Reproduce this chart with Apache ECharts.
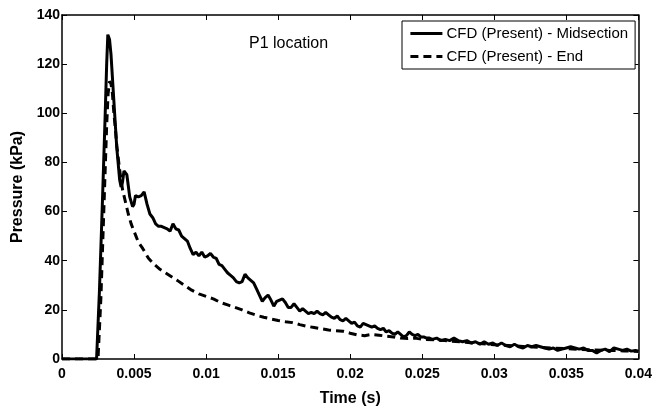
<!DOCTYPE html>
<html>
<head>
<meta charset="utf-8">
<script src="https://cdn.jsdelivr.net/npm/echarts@6/dist/echarts.min.js"></script>
<style>html,body{margin:0;padding:0;background:#fff;}#c{width:655px;height:412px;}</style>
</head>
<body>
<div id="c"></div>
<script>
var seriesNames = ['CFD (Present) - Midsection', 'CFD (Present) - End'];
var xTicks = [0, 0.005, 0.01, 0.015, 0.02, 0.025, 0.03, 0.035, 0.04];
var yTicks = [0, 20, 40, 60, 80, 100, 120, 140];

var midTime = [0,0.0024,0.0026,0.0028,0.0030,0.0031,0.00318,0.0033,0.0034,0.0036,0.0038,0.0040,0.0041,0.0042,0.0043,0.0044,0.0045,0.0047,0.0049,0.0050,0.0051,0.0053,0.0055,0.0057,0.0059,0.0061,0.0063,0.0065,0.0067,0.0069,0.0071,0.0073,0.0075,0.0077,0.0079,0.0081,0.0083,0.0085,0.0087,0.0089,0.0091,0.0093,0.0095,0.0097,0.0099,0.0101,0.0103,0.0105,0.0107,0.0109,0.0111,0.0113,0.0115,0.0117,0.0119,0.0121,0.0123,0.0125,0.0127,0.0129,0.0131,0.0133,0.0135,0.0137,0.0139,0.0141,0.0143,0.0145,0.0147,0.0149,0.0151,0.0153,0.0155,0.0157,0.0159,0.0161,0.0163,0.0165,0.0167,0.0169,0.0171,0.0173,0.0175,0.0177,0.0179,0.0181,0.0183,0.0185,0.0187,0.0189,0.0191,0.0193,0.0195,0.0197,0.0199,0.0201,0.0203,0.0205,0.0207,0.0209,0.0211,0.0213,0.0215,0.0217,0.0219,0.0221,0.0223,0.0225,0.0227,0.0229,0.0231,0.0233,0.0235,0.0237,0.0239,0.0241,0.0243,0.0245,0.0247,0.0249,0.0251,0.0253,0.0255,0.0257,0.0260,0.0263,0.0266,0.0269,0.0272,0.0275,0.0278,0.0281,0.0284,0.0287,0.0290,0.0293,0.0296,0.0299,0.0302,0.0305,0.0308,0.0311,0.0314,0.0317,0.0320,0.0323,0.0326,0.0329,0.0332,0.0335,0.0338,0.0341,0.0344,0.0347,0.0350,0.0353,0.0356,0.0359,0.0362,0.0365,0.0368,0.0371,0.0374,0.0377,0.0380,0.0383,0.0386,0.0389,0.0392,0.0395,0.0398,0.0400];
var midPressure = [0,0,28,63,100,120,132,130,124,105,86,73,70,72,76.5,77,75,66,62,63,66.5,66,66.5,68,63,59,57.5,55,54,54,53.5,53,52,55,53,52.5,50,49,48,45,42.5,43.5,42,43.5,41.5,42,43,41.5,41,38.5,38,36.5,35,34,33,31.5,31,31.5,34.5,33,32,31,28.5,26,23.5,25,26,24,21.5,23.5,24,24.5,23,21,21,22.5,21,19.5,20.5,19.5,18.5,19,18.5,19.5,18.5,18,19,18,17,16.5,17.5,16,15.5,16.5,15.5,14.5,15,13.5,13,14.5,14,13.5,13,13.5,12.5,12,12.5,11,11.5,10.5,10,11,10,9,9.5,11,10,9.5,10,9,9,8.5,8.5,8,8.5,7.5,8,7.5,8.5,7.5,7,7.5,6.5,7,6,7,6,6.5,5.5,6.5,5.5,5,6,5,4.5,5.5,5,5.5,5,4.5,4,4.5,3.5,4,4.5,5,4.5,4,4.5,3.5,3.5,2.5,3.5,4,3,4.5,4,3.5,4,3.2,3.5,3.2];

var endTime = [0,0.0025,0.0027,0.0029,0.0031,0.0032,0.0033,0.0034,0.0035,0.0036,0.0037,0.0038,0.0040,0.0042,0.0044,0.0046,0.0048,0.0050,0.0053,0.0056,0.0060,0.0064,0.0068,0.0072,0.0076,0.0080,0.0085,0.0090,0.0095,0.0100,0.0105,0.0110,0.0115,0.0120,0.0125,0.0130,0.0135,0.0140,0.0145,0.0150,0.0155,0.0160,0.0165,0.0170,0.0175,0.0180,0.0185,0.0190,0.0195,0.0200,0.0205,0.0210,0.0215,0.0220,0.0225,0.0230,0.0235,0.0240,0.0245,0.0250,0.0260,0.0270,0.0280,0.0290,0.0300,0.0310,0.0320,0.0330,0.0340,0.0350,0.0360,0.0370,0.0380,0.0390,0.0400];
var endPressure = [0,0,25,60,95,108,113,112,108,100,94,87,77,69,64,59,55,52,47.5,45,41,38.5,36.5,35,33.5,32,30,28,26.5,25.5,24.5,23,22,21,20,18.8,17.8,17,16.3,15.7,15.2,14.8,14,13.3,12.8,12.3,11.8,11.5,11.3,10.5,9.8,9.5,10,9.7,9.3,9,8.5,8.3,8.5,8,7.8,7.3,6.8,6.3,5.8,5.5,5.1,4.8,4.5,4.2,3.9,3.7,3.5,3.3,3.1];

function pairs(t, p) { return t.map(function (v, i) { return [v, p[i]]; }); }

var chart = echarts.init(document.getElementById('c'), null, { renderer: 'canvas' });
var FONT = 'Liberation Sans, Arial, sans-serif';
var axisCommon = {
  axisLine: { show: true, onZero: false, lineStyle: { color: '#000', width: 1.5 } },
  axisTick: { show: true, inside: true, length: 5, lineStyle: { color: '#000', width: 1 } },
  splitLine: { show: false }
};
chart.setOption({
  animation: false,
  backgroundColor: '#fff',
  grid: { left: 62, right: 15, top: 15, bottom: 46, containLabel: false },
  legend: {
    orient: 'vertical',
    left: 402, top: 21,
    padding: [5, 7, 5, 7],
    itemGap: 8,
    itemWidth: 32, itemHeight: 14,
    borderColor: '#000', borderWidth: 1,
    backgroundColor: '#fff',
    itemStyle: { opacity: 0 },
    lineStyle: { width: 2.8 },
    textStyle: { fontFamily: FONT, fontSize: 15, color: '#000', padding: [0, 0, 0, -1] },
    data: seriesNames
  },
  graphic: [{
    type: 'text', left: 249, top: 36,
    style: { text: 'P1 location', font: '16px ' + FONT, fill: '#000' }
  }],
  xAxis: [
    Object.assign({}, axisCommon, {
      type: 'value', min: 0, max: 0.04, interval: 0.005,
      name: 'Time (s)', nameLocation: 'middle', nameGap: 32,
      nameTextStyle: { fontFamily: FONT, fontSize: 16, fontWeight: 'bold', color: '#000' },
      axisLabel: {
        color: '#000', fontFamily: FONT, fontSize: 14, fontWeight: 'bold', margin: 8,
        formatter: function (v) { return String(parseFloat(v.toFixed(4))); }
      }
    }),
    Object.assign({}, axisCommon, {
      type: 'value', position: 'top', min: 0, max: 0.04, interval: 0.005,
      axisLabel: { show: false }
    })
  ],
  yAxis: [
    Object.assign({}, axisCommon, {
      type: 'value', min: 0, max: 140, interval: 20,
      name: 'Pressure (kPa)', nameLocation: 'middle', nameGap: 31,
      nameTextStyle: { fontFamily: FONT, fontSize: 16, fontWeight: 'bold', color: '#000' },
      axisLabel: { color: '#000', fontFamily: FONT, fontSize: 14, fontWeight: 'bold', margin: 2 }
    }),
    Object.assign({}, axisCommon, {
      type: 'value', position: 'right', min: 0, max: 140, interval: 20,
      axisLabel: { show: false }
    })
  ],
  series: [
    {
      name: seriesNames[0], type: 'line', symbol: 'none',
      data: pairs(midTime, midPressure),
      lineStyle: { color: '#000', width: 3, type: 'solid' },
      itemStyle: { color: '#000' }
    },
    {
      name: seriesNames[1], type: 'line', symbol: 'none',
      data: pairs(endTime, endPressure),
      lineStyle: { color: '#000', width: 3, type: [8, 5] },
      itemStyle: { color: '#000' }
    }
  ]
});
</script>
</body>
</html>
